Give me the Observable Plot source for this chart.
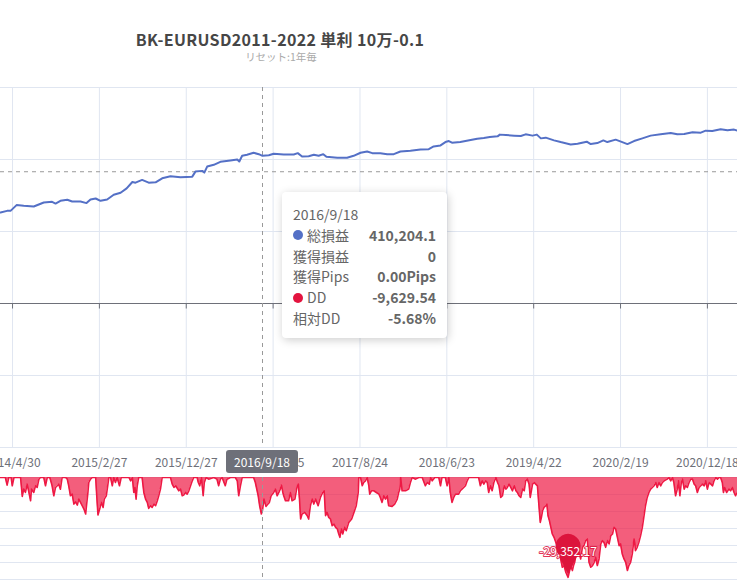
<!DOCTYPE html>
<html><head><meta charset="utf-8">
<script src="https://cdn.jsdelivr.net/npm/d3@7"></script>
<script src="https://cdn.jsdelivr.net/npm/@observablehq/plot@0.6"></script>
<style>
body{margin:0;background:#fff;font-family:"Noto Sans CJK JP","Noto Sans",sans-serif;}
#wrap{position:relative;width:737px;height:581px;overflow:hidden;background:#fff;}
#title{position:absolute;left:0;width:560px;top:30px;line-height:18px;text-align:center;font-size:16px;font-weight:bold;color:#464646;letter-spacing:0.35px;}
#subtitle{position:absolute;left:0;width:562px;top:51px;line-height:12px;text-align:center;font-size:10.5px;color:#aaa;}
.svgbox{position:absolute;left:0;}
#tip{position:absolute;background:#fff;border-radius:4px;box-shadow:1px 2px 10px rgba(0,0,0,0.2);padding:12px 11px 9px 11px;box-sizing:border-box;color:#666;font-size:14px;line-height:20.8px;}
#tip .row{display:flex;align-items:center;}
#tip .dot{display:inline-block;width:10px;height:10px;border-radius:5px;margin-right:4px;}
#tip .lab{flex:1;}
#tip .val{font-weight:bold;color:#666;}
#ptr{position:absolute;background:#6e7079;color:#fff;border-radius:3px;font-size:12px;text-align:center;line-height:23px;height:23px;width:72px;}
</style>
</head><body>
<div id="wrap">
  <div id="title"></div>
  <div id="subtitle"></div>
</div>
<script>
const titleText = "BK-EURUSD2011-2022 単利 10万-0.1";
const subtitleText = "リセット:1年毎";

const xTickDates = ["2014-04-30","2015-02-27","2015-12-27","2016-10-25","2017-08-24","2018-06-23","2019-04-22","2020-02-19","2020-12-18"];
const xTickLabels = ["2014/4/30","2015/2/27","2015/12/27","2016/10/25","2017/8/24","2018/6/23","2019/4/22","2020/2/19","2020/12/18"];
const profitTicks = [-400000,-200000,0,200000,400000,600000];
const ddTicks = [-30000,-25000,-20000,-15000,-10000,-5000,0];
const xDomain = ["2014-03-19","2021-04-02"];

const profitDates = ["2014-03-19","2014-04-11","2014-04-23","2014-05-14","2014-06-08","2014-07-13","2014-08-17","2014-09-15","2014-09-27","2014-10-14","2014-11-07","2014-11-24","2014-12-23","2015-01-13","2015-01-27","2015-02-14","2015-03-03","2015-03-26","2015-04-18","2015-05-12","2015-06-02","2015-06-22","2015-07-03","2015-07-26","2015-08-18","2015-09-11","2015-10-04","2015-11-02","2015-12-07","2016-01-17","2016-01-28","2016-02-21","2016-02-28","2016-03-09","2016-04-01","2016-04-24","2016-05-29","2016-06-22","2016-06-29","2016-07-09","2016-07-26","2016-08-18","2016-09-05","2016-09-18","2016-10-10","2016-10-27","2016-12-01","2017-01-05","2017-01-19","2017-02-03","2017-02-26","2017-03-16","2017-04-02","2017-04-18","2017-04-29","2017-06-06","2017-07-10","2017-08-02","2017-08-26","2017-09-18","2017-10-06","2017-11-03","2017-11-27","2017-12-20","2018-01-12","2018-02-16","2018-03-23","2018-04-21","2018-05-08","2018-06-01","2018-06-18","2018-06-30","2018-07-11","2018-08-09","2018-09-14","2018-10-07","2018-10-30","2018-11-20","2018-12-17","2018-12-25","2019-01-15","2019-02-13","2019-03-08","2019-03-25","2019-04-18","2019-05-03","2019-05-17","2019-06-03","2019-07-02","2019-07-25","2019-08-29","2019-09-22","2019-10-24","2019-11-07","2019-11-30","2019-12-21","2020-01-04","2020-02-02","2020-02-25","2020-03-14","2020-04-06","2020-05-05","2020-06-03","2020-07-08","2020-08-12","2020-09-04","2020-09-28","2020-10-27","2020-11-25","2020-12-12","2021-01-04","2021-02-02","2021-02-26","2021-03-21","2021-04-01","2021-04-15"];
const profitValues = [252600,257300,257300,273300,271300,269400,280500,282500,277700,285300,288100,283300,283300,278900,288900,291700,285300,288900,302100,307700,319700,337600,335700,343200,335700,336500,347700,353300,350500,352400,366400,368400,363600,380400,385200,393600,397200,400000,394400,410300,413100,418700,414800,410204.1,412000,415900,414000,414000,417600,408400,409200,413100,410300,414800,407500,404700,404700,410300,418700,422300,417600,417600,414800,414800,422300,424300,427900,428800,436300,439100,448400,451200,446700,448400,454000,457900,459600,462400,464300,469100,468000,466300,465200,469900,466300,469100,458700,460700,453100,448400,441900,443900,449500,442800,445600,453100,448400,455100,448400,442800,451200,458700,466300,469900,473500,469900,470700,475500,474600,480200,479100,483900,481100,483100,480200,481000];

const ddDates = ["2014-03-19","2014-04-05","2014-04-11","2014-04-17","2014-04-25","2014-04-29","2014-05-05","2014-05-28","2014-06-03","2014-06-08","2014-06-14","2014-06-20","2014-06-25","2014-07-02","2014-07-05","2014-07-13","2014-07-19","2014-07-25","2014-07-31","2014-08-05","2014-08-17","2014-08-23","2014-08-29","2014-09-07","2014-09-12","2014-09-15","2014-09-21","2014-09-27","2014-10-03","2014-10-08","2014-10-14","2014-10-20","2014-11-01","2014-11-07","2014-11-12","2014-11-18","2014-11-24","2014-11-30","2014-12-06","2014-12-12","2014-12-17","2014-12-23","2014-12-29","2015-01-04","2015-01-10","2015-01-13","2015-01-18","2015-01-21","2015-01-27","2015-02-02","2015-02-14","2015-02-17","2015-02-22","2015-02-28","2015-03-06","2015-03-12","2015-03-16","2015-03-23","2015-03-28","2015-04-01","2015-04-07","2015-04-13","2015-04-18","2015-04-24","2015-04-30","2015-05-08","2015-05-14","2015-06-10","2015-06-16","2015-06-22","2015-06-27","2015-07-01","2015-07-05","2015-07-09","2015-07-14","2015-07-26","2015-08-01","2015-08-07","2015-08-13","2015-08-18","2015-08-24","2015-08-30","2015-09-05","2015-09-11","2015-09-17","2015-09-22","2015-09-28","2015-10-04","2015-11-02","2015-11-08","2015-11-14","2015-11-20","2015-12-01","2015-12-07","2015-12-13","2015-12-18","2015-12-24","2015-12-30","2016-01-05","2016-01-11","2016-01-17","2016-01-22","2016-02-03","2016-02-07","2016-02-12","2016-02-18","2016-02-24","2016-02-28","2016-03-05","2016-03-14","2016-04-01","2016-04-12","2016-04-18","2016-04-24","2016-04-30","2016-05-11","2016-05-17","2016-05-29","2016-06-15","2016-06-22","2016-06-27","2016-07-03","2016-07-09","2016-07-21","2016-08-18","2016-08-24","2016-09-03","2016-09-08","2016-09-14","2016-09-18","2016-09-23","2016-09-30","2016-10-07","2016-10-12","2016-10-18","2016-10-27","2016-11-02","2016-11-08","2016-11-14","2016-11-19","2016-11-23","2016-11-28","2016-12-01","2016-12-07","2016-12-18","2016-12-24","2016-12-30","2017-01-09","2017-01-17","2017-01-21","2017-01-25","2017-01-29","2017-02-03","2017-02-12","2017-02-21","2017-02-26","2017-03-04","2017-03-10","2017-03-16","2017-03-22","2017-03-31","2017-04-08","2017-04-16","2017-04-21","2017-04-26","2017-05-01","2017-05-07","2017-05-13","2017-05-19","2017-05-25","2017-05-31","2017-06-06","2017-06-11","2017-06-15","2017-06-20","2017-06-25","2017-07-01","2017-07-07","2017-07-16","2017-07-26","2017-08-03","2017-08-11","2017-08-18","2017-08-20","2017-08-26","2017-09-01","2017-09-06","2017-09-12","2017-09-18","2017-09-24","2017-09-27","2017-10-03","2017-10-11","2017-10-20","2017-10-29","2017-11-03","2017-11-09","2017-11-15","2017-11-21","2017-11-27","2017-12-02","2017-12-14","2017-12-23","2018-01-01","2018-01-06","2018-01-10","2018-01-13","2018-01-18","2018-01-30","2018-02-10","2018-02-16","2018-02-22","2018-03-06","2018-03-17","2018-03-29","2018-04-09","2018-04-15","2018-04-23","2018-04-27","2018-05-03","2018-05-12","2018-05-26","2018-06-01","2018-06-06","2018-06-18","2018-06-24","2018-06-30","2018-07-05","2018-07-11","2018-07-17","2018-07-23","2018-08-03","2018-08-09","2018-08-15","2018-08-21","2018-08-27","2018-09-02","2018-09-08","2018-10-12","2018-10-18","2018-10-24","2018-10-30","2018-11-05","2018-11-11","2018-11-16","2018-11-22","2018-11-28","2018-12-04","2018-12-11","2018-12-17","2018-12-22","2018-12-28","2019-01-03","2019-01-09","2019-01-15","2019-01-20","2019-01-26","2019-02-01","2019-02-07","2019-02-13","2019-02-19","2019-02-24","2019-03-02","2019-03-08","2019-03-14","2019-03-20","2019-03-25","2019-03-31","2019-04-06","2019-04-10","2019-04-14","2019-04-18","2019-04-24","2019-04-29","2019-05-05","2019-05-09","2019-05-15","2019-05-19","2019-05-23","2019-05-28","2019-06-03","2019-06-07","2019-06-11","2019-06-16","2019-06-21","2019-06-26","2019-07-02","2019-07-08","2019-07-14","2019-07-20","2019-07-25","2019-07-31","2019-08-06","2019-08-12","2019-08-20","2019-08-24","2019-08-29","2019-09-04","2019-09-08","2019-09-12","2019-09-16","2019-09-22","2019-09-27","2019-10-03","2019-10-09","2019-10-14","2019-10-20","2019-10-26","2019-11-01","2019-11-07","2019-11-13","2019-11-19","2019-11-24","2019-11-30","2019-12-06","2019-12-12","2019-12-17","2019-12-23","2019-12-29","2020-01-04","2020-01-10","2020-01-16","2020-01-22","2020-01-27","2020-02-02","2020-02-08","2020-02-14","2020-02-19","2020-02-25","2020-03-02","2020-03-08","2020-03-14","2020-03-19","2020-03-25","2020-03-31","2020-04-06","2020-04-09","2020-04-11","2020-04-17","2020-04-23","2020-04-29","2020-05-05","2020-05-11","2020-05-16","2020-05-22","2020-05-28","2020-06-03","2020-06-09","2020-06-15","2020-06-21","2020-06-26","2020-07-02","2020-07-08","2020-07-14","2020-07-20","2020-07-31","2020-08-06","2020-08-12","2020-08-18","2020-08-23","2020-08-29","2020-09-04","2020-09-08","2020-09-13","2020-09-18","2020-09-22","2020-09-28","2020-10-03","2020-10-09","2020-10-15","2020-10-21","2020-10-27","2020-11-02","2020-11-07","2020-11-13","2020-11-19","2020-11-25","2020-12-01","2020-12-07","2020-12-12","2020-12-18","2020-12-24","2020-12-30","2021-01-05","2021-01-10","2021-01-16","2021-01-22","2021-01-28","2021-02-02","2021-02-08","2021-02-12","2021-02-16","2021-02-23","2021-03-03","2021-03-09","2021-03-15","2021-03-21","2021-03-26","2021-04-01","2021-04-10"];
const ddValues = [0,0,-2250,0,0,-2440,0,0,-5570,-3420,-4400,-1960,-3910,-6840,-3420,-4400,-2440,-2930,-490,0,0,-2440,0,0,-1470,-2440,-5380,-2930,-2440,-1960,-3420,0,0,-490,-2440,-5380,-4890,-7820,-7140,-8110,-6350,-7330,-8310,-9290,-10750,-8310,-4400,-1470,-490,0,0,-4400,-11050,-9290,-7330,-8800,-6350,-5380,-2440,0,0,-2440,0,-1470,0,-2440,0,0,-980,0,-4400,-2930,-6350,-2440,0,0,-4400,-6350,-7330,-9090,-8310,-8800,-7820,-8310,-6840,-5380,-3420,0,0,-1960,-2930,-2440,-3910,-3420,-5380,-5180,-4400,-4890,-3910,-2440,-980,0,0,-1470,-2440,0,-5380,-1470,0,-490,0,-490,-2440,-490,0,-2440,-490,0,0,-980,-5380,-2440,0,0,0,-1470,-5380,-8310,-10750,-9629.54,-6350,-8500,-7820,-7330,-5380,-4400,-3420,-5380,-4400,-3420,-2250,-4400,-5380,-6840,-6840,-4400,-6840,-6350,-2440,-1960,-6350,-12220,-10750,-10260,-11240,-12220,-8310,-6350,-7820,-6350,-8310,-5870,-4400,-3910,-11240,-10260,-11730,-12220,-14170,-13690,-14660,-15150,-16620,-17600,-15150,-16620,-14660,-15640,-13200,-12220,-10260,-8310,-4400,0,0,-2440,-1470,-980,0,-2440,-4890,-3910,-3910,-4400,-4890,-5870,-7330,-5380,-6350,-5380,-8310,-8500,-7820,-6350,-4400,-3420,0,-3910,-3910,-3420,-1470,0,-490,0,0,-2440,-1470,-1960,0,-980,0,0,-2440,0,0,-2440,0,-4400,-7330,-5870,-4890,-4890,-3910,-3420,-2930,-2440,-980,0,0,-2440,-980,-1960,-980,-1470,-4400,-2440,-3910,-1470,0,-1470,-2440,-5870,-5380,-2440,-3420,-2930,-1960,-2930,-3910,-2440,-3910,-4400,-5380,-5870,-3420,-3910,-980,-490,-1960,-5870,-3910,-1960,-1470,-1960,-2440,-6840,-13200,-11730,-9780,-8800,-8310,-7820,-11240,-12710,-14660,-16620,-17600,-19060,-20530,-21990,-23950,-26390,-25900,-27860,-29352.17,-27860,-25900,-27370,-25900,-24930,-22970,-22970,-21990,-23950,-20530,-20040,-18570,-18080,-24930,-26390,-25900,-24930,-23460,-25900,-23950,-19550,-18570,-19060,-20530,-18570,-19550,-17110,-16620,-14660,-15150,-17600,-20040,-19550,-22480,-23950,-24930,-27370,-25900,-24930,-22480,-18080,-19550,-21500,-20530,-19060,-17110,-14660,-11240,-8310,-5870,-4400,-3420,-2930,-2440,-1470,-2930,-1470,-2440,-1470,-980,-490,0,-980,0,-1470,-5380,-3420,-980,-5380,-1470,-490,-3420,-2440,-2930,-1470,-490,-490,-1960,-2440,-4400,-2930,-2440,-1960,-2440,-980,-3420,-1470,-1960,-2440,-980,0,-490,0,0,-1470,-4400,-2930,-4400,-3420,-3910,-2930,-4400,-5380,-4400,-3000];

const pointerDateStr = "2016-09-18";
const pointerLabel = "2016/9/18";
const pointerProfitLevel = 366000;
const tipLabels = ["総損益","獲得損益","獲得Pips","DD","相対DD"];
const tipValues = ["410,204.1","0","0.00Pips","-9,629.54","-5.68%"];
const tipDots = ["#5470c6", null, null, "#e3143f", null];

const blue = "#5470c6", red = "#ee1944", pinColor = "#dc143c";
const fmt = d3.formatLocale({decimal:".", thousands:",", grouping:[3], currency:["",""], minus:"-"}).format(",.2f");

const parse = d3.utcParse("%Y-%m-%d");
const profit = profitDates.map((d,i)=>({date: parse(d), value: profitValues[i]}));
const dd = ddDates.map((d,i)=>({date: parse(d), value: ddValues[i]}));
const ticks = xTickDates.map(parse);
const pointerDate = parse(pointerDateStr);
const ddMin = dd.reduce((a,b)=> b.value < a.value ? b : a);

document.getElementById("title").textContent = titleText;
document.getElementById("subtitle").textContent = subtitleText;

const font = '"Noto Sans CJK JP","Noto Sans",sans-serif';
const xOpts = {type:"utc", domain: xDomain.map(parse), axis:null};

const tickSymbol = {draw(ctx){ ctx.moveTo(0,0); ctx.lineTo(0,5); }};
const pinSymbol = {draw(ctx){
  const R = 12.5, c = 28, phi = Math.acos(R/c);
  const tx = R*Math.sin(phi), ty = -c + R*Math.cos(phi);
  ctx.moveTo(0,0); ctx.lineTo(tx,ty);
  ctx.arc(0,-c,R, Math.PI/2 - phi, Math.PI/2 + phi, true);
  ctx.closePath();
}};

const topPlot = Plot.plot({
  width:737, height:372, marginTop:7, marginBottom:5, marginLeft:0, marginRight:0,
  style:{fontFamily:font, background:"transparent"},
  x: xOpts,
  y: {domain:[-400000,600000], axis:null},
  marks:[
    Plot.ruleY(profitTicks, {stroke:"#e0e6f1", strokeWidth:1}),
    Plot.ruleX(ticks, {stroke:"#e0e6f1", strokeWidth:1}),
    Plot.ruleY([0], {stroke:"#6e7079", strokeWidth:1}),
    Plot.dot(ticks, {x:d=>d, y:0, symbol:tickSymbol, stroke:"#6e7079", fill:"none", strokeWidth:1}),
    Plot.ruleY([pointerProfitLevel], {stroke:"#999", strokeDasharray:"4,4", strokeWidth:1}),
    Plot.ruleX([pointerDate], {stroke:"#999", strokeDasharray:"4,4", strokeWidth:1}),
    Plot.line(profit, {x:"date", y:"value", stroke:blue, strokeWidth:2, clip:true})
  ]
});
topPlot.classList.add("svgbox");
topPlot.style.top = "80px";

const botPlot = Plot.plot({
  width:737, height:132, marginTop:28, marginBottom:2, marginLeft:0, marginRight:0,
  style:{fontFamily:font, background:"transparent"},
  x: xOpts,
  y: {domain:[-30000,0], axis:null},
  marks:[
    Plot.ruleY(ddTicks, {stroke:"#e0e6f1", strokeWidth:1}),
    Plot.text(ticks, {x:d=>d, frameAnchor:"top", dy:-19, text:(d,i)=>xTickLabels[i], fill:"#6e7079", fontSize:12}),
    Plot.areaY(dd, {x:"date", y1:0, y2:"value", fill:red, fillOpacity:0.7, clip:true}),
    Plot.line(dd, {x:"date", y:"value", stroke:red, strokeWidth:1.6, clip:true}),
    Plot.ruleX([pointerDate], {stroke:"#999", strokeDasharray:"4,4", strokeWidth:1}),
    Plot.dot([ddMin], {x:"date", y:"value", symbol:pinSymbol, fill:pinColor, stroke:"none", dy:-3}),
    Plot.text([ddMin], {x:"date", y:"value", dy:-25, text:d=>fmt(d.value), fill:"#fff", stroke:pinColor, strokeWidth:2, strokeOpacity:0.85, paintOrder:"stroke", fontSize:12})
  ]
});
botPlot.classList.add("svgbox");
botPlot.style.top = "449px";

const wrap = document.getElementById("wrap");
wrap.appendChild(topPlot);
wrap.appendChild(botPlot);

const px = botPlot.scale("x").apply(pointerDate);

const ptr = document.createElement("div");
ptr.id = "ptr";
ptr.textContent = pointerLabel;
ptr.style.left = (px - 36) + "px";
ptr.style.top = "450px";
wrap.appendChild(ptr);

const tip = document.createElement("div");
tip.id = "tip";
tip.style.left = (px + 20) + "px";
tip.style.top = "192px";
tip.style.width = "165px";
tip.style.height = "146px";
const head = document.createElement("div");
head.textContent = pointerLabel;
tip.appendChild(head);
tipLabels.forEach((lab,i)=>{
  const row = document.createElement("div"); row.className = "row";
  if (tipDots[i]) { const dot = document.createElement("span"); dot.className="dot"; dot.style.background = tipDots[i]; row.appendChild(dot); }
  const l = document.createElement("span"); l.className="lab"; l.textContent = lab; row.appendChild(l);
  const v = document.createElement("span"); v.className="val"; v.textContent = tipValues[i]; row.appendChild(v);
  tip.appendChild(row);
});
wrap.appendChild(tip);
</script>
</body></html>
